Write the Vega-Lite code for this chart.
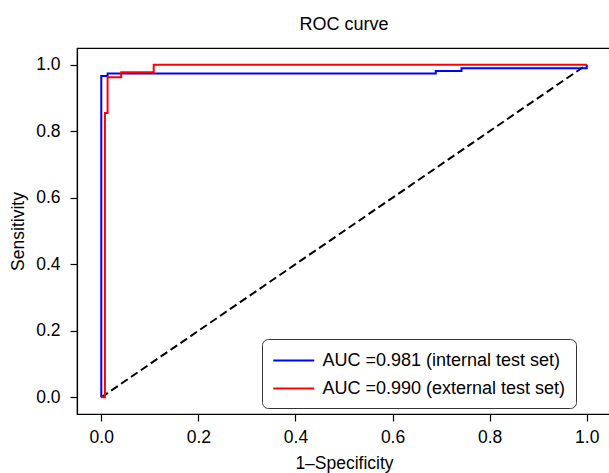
{
  "$schema": "https://vega.github.io/schema/vega-lite/v6.json",
  "width": 534,
  "height": 366,
  "autosize": {"type": "none"},
  "padding": {"left": 77, "top": 48, "right": 0, "bottom": 59},
  "title": {"text": "ROC curve", "fontSize": 18, "font": "Liberation Sans", "fontWeight": "normal", "color": "black", "offset": 14},
  "config": {
    "view": {"stroke": "black", "strokeWidth": 1.2},
    "axis": {
      "grid": false, "domainColor": "black", "domainWidth": 1.2, "tickColor": "black", "tickWidth": 1.2, "tickSize": 7,
      "labelColor": "black", "labelFont": "Liberation Sans", "labelFontSize": 17.5, "labelPadding": 7,
      "titleColor": "black", "titleFont": "Liberation Sans", "titleFontSize": 17.5, "titleFontWeight": "normal"
    }
  },
  "datasets": {
    "roc": [
      {"series": "AUC =0.981 (internal test set)", "i": 0, "x": 0.0, "y": 0.0},
      {"series": "AUC =0.981 (internal test set)", "i": 1, "x": 0.0, "y": 0.966},
      {"series": "AUC =0.981 (internal test set)", "i": 2, "x": 0.013, "y": 0.966},
      {"series": "AUC =0.981 (internal test set)", "i": 3, "x": 0.013, "y": 0.973},
      {"series": "AUC =0.981 (internal test set)", "i": 4, "x": 0.689, "y": 0.973},
      {"series": "AUC =0.981 (internal test set)", "i": 5, "x": 0.689, "y": 0.981},
      {"series": "AUC =0.981 (internal test set)", "i": 6, "x": 0.742, "y": 0.981},
      {"series": "AUC =0.981 (internal test set)", "i": 7, "x": 0.742, "y": 0.989},
      {"series": "AUC =0.981 (internal test set)", "i": 8, "x": 1.0, "y": 0.989},
      {"series": "AUC =0.981 (internal test set)", "i": 9, "x": 1.0, "y": 1.0},
      {"series": "AUC =0.990 (external test set)", "i": 0, "x": 0.0, "y": 0.0},
      {"series": "AUC =0.990 (external test set)", "i": 1, "x": 0.0075, "y": 0.0},
      {"series": "AUC =0.990 (external test set)", "i": 2, "x": 0.0075, "y": 0.855},
      {"series": "AUC =0.990 (external test set)", "i": 3, "x": 0.013, "y": 0.855},
      {"series": "AUC =0.990 (external test set)", "i": 4, "x": 0.013, "y": 0.962},
      {"series": "AUC =0.990 (external test set)", "i": 5, "x": 0.041, "y": 0.962},
      {"series": "AUC =0.990 (external test set)", "i": 6, "x": 0.041, "y": 0.977},
      {"series": "AUC =0.990 (external test set)", "i": 7, "x": 0.108, "y": 0.977},
      {"series": "AUC =0.990 (external test set)", "i": 8, "x": 0.108, "y": 1.0},
      {"series": "AUC =0.990 (external test set)", "i": 9, "x": 1.0, "y": 1.0}
    ],
    "diag": [
      {"x": 0, "y": 0},
      {"x": 1, "y": 1}
    ]
  },
  "layer": [
    {
      "data": {"name": "diag"},
      "mark": {"type": "line", "color": "black", "strokeWidth": 2, "strokeDash": [8, 4]},
      "encoding": {
        "x": {"field": "x", "type": "quantitative"},
        "y": {"field": "y", "type": "quantitative"}
      }
    },
    {
      "data": {"name": "roc"},
      "mark": {"type": "line", "strokeWidth": 2},
      "encoding": {
        "x": {
          "field": "x", "type": "quantitative",
          "scale": {"domain": [-0.05, 1.05], "nice": false, "zero": false},
          "axis": {"values": [0, 0.2, 0.4, 0.6, 0.8, 1.0], "format": ".1f", "title": "1–Specificity", "titlePadding": 9}
        },
        "y": {
          "field": "y", "type": "quantitative",
          "scale": {"domain": [-0.05, 1.05], "nice": false, "zero": false},
          "axis": {"values": [0, 0.2, 0.4, 0.6, 0.8, 1.0], "format": ".1f", "title": "Sensitivity", "titlePadding": 8, "labelPadding": 10}
        },
        "order": {"field": "i", "type": "quantitative"},
        "color": {
          "field": "series", "type": "nominal",
          "scale": {"domain": ["AUC =0.981 (internal test set)", "AUC =0.990 (external test set)"], "range": ["#0000ff", "#ff0000"]},
          "legend": {
            "title": null, "orient": "none", "legendX": 185, "legendY": 291,
            "symbolType": "M-1,0L3,0", "symbolSize": 420, "symbolStrokeWidth": 2,
            "labelFont": "Liberation Sans", "labelFontSize": 18, "labelColor": "black", "labelLimit": 400,
            "labelExpr": "datum.label + '\u2003\u00a0'",
            "fillColor": "white", "strokeColor": "#333333", "cornerRadius": 6, "padding": 10, "rowPadding": 7, "labelOffset": 27.5
          }
        }
      }
    }
  ]
}
